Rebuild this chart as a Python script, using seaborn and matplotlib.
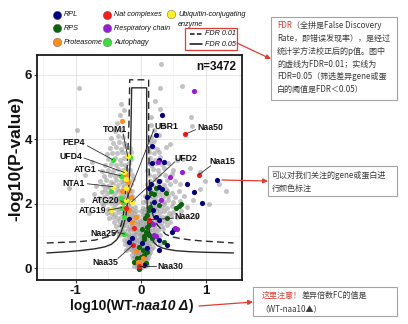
import matplotlib
matplotlib.use("Agg")
import matplotlib.pyplot as plt
from matplotlib.patches import Rectangle, FancyArrowPatch
from matplotlib.offsetbox import TextArea, HPacker, AnchoredOffsetbox
from matplotlib.ticker import MultipleLocator
import pandas as pd
import seaborn as sns

# ------------------------------------------------------------------ data
# all quantified proteins (log10 fold change, -log10 p)
gray_points = [
    (-0.10, 0.05), (-0.06, 0.02), (-0.02, 0.00), (0.02, 0.03), (0.06, 0.06), (0.09, 0.10),
    (-0.08, 0.12), (-0.04, 0.10), (0.00, 0.13), (0.04, 0.15), (0.08, 0.18), (-0.11, 0.20),
    (-0.07, 0.23), (-0.03, 0.21), (0.01, 0.24), (0.05, 0.26), (0.10, 0.27), (-0.12, 0.31),
    (-0.09, 0.33), (-0.05, 0.30), (-0.01, 0.34), (0.03, 0.32), (0.07, 0.36), (0.11, 0.35),
    (-0.13, 0.41), (-0.08, 0.43), (-0.04, 0.40), (0.00, 0.44), (0.04, 0.42), (0.08, 0.46),
    (0.12, 0.44), (-0.10, 0.49), (-0.06, 0.51), (-0.02, 0.48), (0.02, 0.51), (0.06, 0.53),
    (0.10, 0.50), (0.14, 0.49),
    (-0.22, 0.55), (-0.17, 0.58), (-0.13, 0.56), (-0.09, 0.60), (-0.05, 0.57), (-0.01, 0.60),
    (0.03, 0.58), (0.07, 0.62), (0.11, 0.60), (0.15, 0.58), (-0.20, 0.65), (-0.15, 0.68),
    (-0.11, 0.66), (-0.07, 0.70), (-0.03, 0.67), (0.01, 0.70), (0.05, 0.68), (0.09, 0.72),
    (0.13, 0.70), (0.18, 0.67), (-0.24, 0.75), (-0.19, 0.78), (-0.14, 0.76), (-0.10, 0.80),
    (-0.06, 0.77), (-0.02, 0.80), (0.02, 0.78), (0.06, 0.82), (0.10, 0.80), (0.14, 0.78),
    (0.20, 0.80), (-0.26, 0.86), (-0.21, 0.88), (-0.16, 0.90), (-0.12, 0.86), (-0.08, 0.90),
    (-0.04, 0.88), (0.00, 0.92), (0.04, 0.90), (0.08, 0.94), (0.12, 0.90), (0.17, 0.88),
    (0.22, 0.92), (-0.18, 0.97), (-0.10, 0.98), (-0.02, 0.99), (0.06, 0.98), (0.15, 0.99),
    (0.26, 0.90), (0.30, 0.75),
    (-0.33, 1.02), (-0.28, 1.05), (-0.23, 1.03), (-0.19, 1.07), (-0.15, 1.04), (-0.11, 1.08),
    (-0.07, 1.05), (-0.03, 1.09), (0.01, 1.06), (0.05, 1.10), (0.09, 1.07), (0.13, 1.05),
    (0.18, 1.09), (0.23, 1.06), (0.30, 1.04), (-0.36, 1.15), (-0.30, 1.18), (-0.25, 1.16),
    (-0.20, 1.20), (-0.16, 1.17), (-0.12, 1.21), (-0.08, 1.18), (-0.04, 1.22), (0.00, 1.19),
    (0.04, 1.23), (0.08, 1.20), (0.12, 1.18), (0.17, 1.22), (0.22, 1.20), (0.27, 1.17),
    (0.34, 1.20), (-0.38, 1.30), (-0.32, 1.33), (-0.27, 1.30), (-0.22, 1.34), (-0.17, 1.31),
    (-0.13, 1.35), (-0.09, 1.32), (-0.05, 1.36), (-0.01, 1.33), (0.03, 1.37), (0.07, 1.34),
    (0.11, 1.32), (0.16, 1.36), (0.21, 1.33), (0.26, 1.37), (0.32, 1.30), (0.40, 1.35),
    (-0.41, 1.44), (-0.34, 1.46), (-0.28, 1.43), (-0.23, 1.47), (-0.18, 1.45), (-0.14, 1.48),
    (-0.10, 1.44), (-0.06, 1.47), (-0.02, 1.45), (0.02, 1.48), (0.06, 1.46), (0.10, 1.44),
    (0.15, 1.47), (0.20, 1.45), (0.25, 1.48), (0.31, 1.44), (0.37, 1.47), (0.45, 1.42),
    (-0.48, 1.55), (-0.42, 1.58), (-0.36, 1.56), (-0.31, 1.60), (-0.26, 1.57), (-0.21, 1.61),
    (-0.17, 1.58), (-0.13, 1.62), (-0.09, 1.59), (-0.05, 1.63), (0.03, 1.64), (0.07, 1.61),
    (0.11, 1.58), (0.16, 1.62), (0.21, 1.59), (0.26, 1.63), (0.32, 1.60), (0.38, 1.58),
    (0.46, 1.62), (0.55, 1.60), (-0.52, 1.70), (-0.45, 1.72), (-0.39, 1.69), (-0.33, 1.73),
    (-0.28, 1.70), (-0.23, 1.74), (-0.19, 1.71), (-0.15, 1.75), (-0.11, 1.72), (-0.07, 1.76),
    (0.01, 1.77), (0.05, 1.74), (0.09, 1.71), (0.14, 1.75), (0.19, 1.72), (0.24, 1.76),
    (0.30, 1.73), (0.36, 1.77), (0.43, 1.72), (0.50, 1.75), (0.62, 1.78), (-0.50, 1.85),
    (-0.43, 1.88), (-0.37, 1.84), (-0.32, 1.87), (-0.27, 1.90), (-0.22, 1.86), (-0.17, 1.89),
    (-0.13, 1.85), (-0.09, 1.90), (0.03, 1.88), (0.07, 1.85), (0.11, 1.89), (0.16, 1.86),
    (0.21, 1.90), (0.27, 1.87), (0.33, 1.91), (0.40, 1.88), (0.48, 1.92), (0.70, 1.90),
    (-0.58, 1.95), (-0.40, 1.98), (-0.20, 1.97), (0.18, 1.97), (0.35, 1.99),
    (-0.60, 2.03), (-0.53, 2.06), (-0.46, 2.02), (-0.40, 2.07), (-0.35, 2.04), (-0.30, 2.08),
    (-0.25, 2.05), (-0.20, 2.09), (-0.16, 2.06), (-0.12, 2.10), (0.04, 2.05), (0.08, 2.09),
    (0.13, 2.06), (0.18, 2.10), (0.23, 2.07), (0.29, 2.11), (0.35, 2.06), (0.42, 2.10),
    (0.50, 2.05), (0.60, 2.08), (0.80, 2.12), (-0.64, 2.18), (-0.56, 2.21), (-0.49, 2.17),
    (-0.43, 2.22), (-0.37, 2.19), (-0.32, 2.23), (-0.27, 2.20), (-0.22, 2.24), (-0.17, 2.21),
    (-0.13, 2.25), (0.07, 2.24), (0.12, 2.21), (0.17, 2.25), (0.22, 2.22), (0.28, 2.26),
    (0.34, 2.21), (0.41, 2.25), (0.52, 2.20), (0.66, 2.24), (-0.72, 2.30), (-0.60, 2.35),
    (-0.52, 2.32), (-0.45, 2.37), (-0.39, 2.33), (-0.33, 2.38), (-0.28, 2.34), (-0.23, 2.39),
    (-0.18, 2.35), (-0.14, 2.40), (0.11, 2.35), (0.16, 2.39), (0.21, 2.36), (0.27, 2.40),
    (0.33, 2.35), (0.40, 2.39), (0.48, 2.34), (0.58, 2.38), (-0.55, 2.46), (-0.47, 2.48),
    (-0.36, 2.47), (-0.27, 2.49), (-0.19, 2.46), (0.14, 2.46), (0.24, 2.48), (0.38, 2.47),
    (0.90, 2.45),
    (-0.68, 2.55), (-0.58, 2.58), (-0.50, 2.56), (-0.42, 2.60), (-0.35, 2.57), (-0.28, 2.62),
    (-0.21, 2.58), (-0.15, 2.61), (0.10, 2.62), (0.18, 2.59), (0.26, 2.63), (0.35, 2.58),
    (0.45, 2.62), (0.60, 2.60), (-0.62, 2.70), (-0.53, 2.73), (-0.45, 2.69), (-0.38, 2.74),
    (-0.31, 2.71), (-0.25, 2.75), (-0.18, 2.72), (-0.12, 2.76), (0.14, 2.71), (0.21, 2.76),
    (0.30, 2.72), (0.40, 2.75), (0.52, 2.70), (-0.56, 2.86), (-0.47, 2.88), (-0.40, 2.85),
    (-0.33, 2.90), (-0.27, 2.87), (-0.20, 2.91), (-0.14, 2.88), (0.12, 2.90), (0.20, 2.87),
    (0.28, 2.91), (0.37, 2.88), (0.48, 2.92), (1.20, 2.60), (0.98, 2.70),
    (-0.60, 3.02), (-0.50, 3.05), (-0.42, 3.03), (-0.35, 3.08), (-0.28, 3.04), (-0.22, 3.09),
    (-0.16, 3.06), (0.10, 3.05), (0.18, 3.09), (0.27, 3.06), (0.36, 3.10), (0.50, 3.05),
    (-0.55, 3.20), (-0.46, 3.23), (-0.38, 3.19), (-0.31, 3.24), (-0.24, 3.21), (-0.18, 3.25),
    (0.13, 3.25), (0.16, 3.21), (0.24, 3.26), (0.33, 3.22), (0.42, 3.28), (-0.50, 3.38),
    (-0.40, 3.42), (-0.32, 3.37), (-0.25, 3.41), (-0.15, 3.38), (0.14, 3.42), (0.22, 3.37),
    (0.30, 3.44), (0.56, 3.35), (0.75, 3.10),
    (-0.52, 3.55), (-0.44, 3.58), (-0.36, 3.56), (-0.29, 3.60), (-0.23, 3.57), (-0.15, 3.62),
    (0.12, 3.61), (0.20, 3.56), (0.28, 3.60), (-0.47, 3.72), (-0.38, 3.75), (-0.30, 3.70),
    (-0.24, 3.78), (-0.16, 3.74), (0.13, 3.73), (0.18, 3.77), (0.25, 3.71), (0.38, 3.75),
    (-0.42, 3.90), (-0.33, 3.93), (-0.26, 3.88), (0.14, 3.92), (0.20, 3.95), (0.45, 3.85),
    (-0.45, 4.05), (-0.35, 4.10), (-0.27, 4.08), (0.15, 4.06), (0.28, 4.12), (-0.40, 4.25),
    (-0.30, 4.30), (0.20, 4.28), (-0.36, 4.50), (0.15, 4.45), (0.35, 4.40), (-0.32, 4.75),
    (0.16, 4.70), (-0.26, 4.90), (0.30, 4.95), (0.78, 4.40), (0.77, 4.70),
    (-0.95, 5.60), (-0.97, 4.30), (0.31, 6.34), (0.63, 5.66), (0.29, 5.60), (-1.10, 2.50),
    (-0.85, 2.90), (-0.90, 2.10), (-0.80, 1.70), (-0.75, 3.30), (0.85, 1.60), (1.05, 2.00),
    (1.30, 2.40), (0.65, 3.40), (0.90, 3.00), (-0.30, 5.10), (0.22, 5.20),
]

rpl_points = [
    (0.32, 4.75), (0.23, 4.14), (0.17, 3.80), (0.17, 3.28), (0.35, 3.30), (0.28, 3.37),
    (0.28, 2.70), (0.15, 2.60), (0.71, 2.60), (0.82, 2.36), (1.17, 2.75), (0.12, 2.50),
    (0.32, 2.47), (0.28, 2.53), (0.94, 2.03), (0.18, 1.81), (0.23, 1.59), (0.28, 1.50),
    (0.51, 1.22), (0.48, 1.12), (0.28, 0.88), (0.40, 0.72), (0.28, 0.56), (0.02, 0.78),
    (0.09, 0.63), (0.05, 0.09), (-0.18, 1.53), (-0.18, 0.81), (0.10, 2.20), (0.20, 2.05),
    (-0.14, 0.95),
]
rps_points = [
    (0.23, 2.50), (0.15, 2.34), (0.20, 2.30), (0.38, 2.34), (0.28, 1.97), (0.54, 1.88),
    (0.58, 1.92), (0.61, 1.99), (0.40, 1.56), (0.14, 1.90), (0.10, 1.65), (0.06, 1.55),
    (0.15, 1.40), (0.12, 1.35), (0.09, 1.28), (0.08, 1.12), (0.12, 1.03), (0.17, 0.95),
    (0.05, 1.00), (0.05, 0.90), (0.35, 0.81), (-0.03, 0.66), (0.03, 0.55), (0.10, 0.50),
    (0.05, 0.41), (0.00, 0.34), (-0.06, 0.30), (-0.11, 0.19), (0.08, 0.15), (-0.03, -0.03),
    (0.13, 1.80), (0.02, 1.20),
]
proteasome_points = [
    (-0.29, 4.56), (-0.22, 2.90), (-0.20, 2.66), (-0.18, 2.44), (-0.29, 2.38), (-0.15, 2.22),
    (-0.29, 2.06), (-0.18, 1.81), (-0.08, 1.59), (-0.14, 1.44), (-0.08, 0.53), (-0.05, 0.19),
    (-0.01, 0.12), (0.03, 0.30),
]
nat_points = [
    (0.68, 4.16), (0.89, 2.90), (0.12, 1.50), (-0.22, 1.88), (-0.11, 1.25), (-0.12, 0.72),
    (-0.03, 0.06),
]
respiratory_points = [
    (0.82, 5.50), (0.63, 3.00), (0.45, 2.82), (0.26, 3.30), (0.31, 2.13), (0.18, 1.38),
    (0.52, 1.25), (0.55, 1.22), (0.20, 1.03), (0.24, 1.00),
]
autophagy_points = [
    (-0.17, 3.44), (-0.43, 3.37), (-0.31, 2.87), (-0.46, 2.38), (-0.31, 2.19), (-0.26, 2.04),
    (-0.29, 1.88), (-0.26, 1.59), (-0.25, 1.06),
]
ubiquitin_points = [
    (-0.20, 3.47), (-0.25, 2.97), (-0.22, 2.78), (-0.43, 2.53), (-0.23, 2.50), (-0.22, 2.13),
    (-0.14, 2.06), (-0.46, 1.81),
]

category_names = ["RPL", "RPS", "Proteasome", "Nat complexes", "Respiratory chain",
                  "Autophagy", "Ubiquitin-conjugating enzyme"]
category_colors = ["#000080", "#0A640A", "#FF8C1A", "#FF1A1A", "#9B19D9",
                   "#36E036", "#FFF21A"]
category_points = [rpl_points, rps_points, proteasome_points, nat_points,
                   respiratory_points, autophagy_points, ubiquitin_points]

# significance threshold curves
fdr05_x = [-1.44, -1.20, -0.95, -0.70, -0.55, -0.45, -0.37, -0.31, -0.27, -0.23, -0.20,
           -0.18, -0.16, -0.15, -0.14, 0.09, 0.09, 0.09, 0.10, 0.11, 0.13, 0.16, 0.20,
           0.25, 0.32, 0.40, 0.54, 0.75, 1.00, 1.25, 1.42]
fdr05_y = [0.47, 0.50, 0.54, 0.60, 0.66, 0.74, 0.88, 1.08, 1.30, 1.60, 2.10,
           2.70, 3.40, 4.40, 5.60, 5.60, 4.00, 2.50, 1.80, 1.40, 1.15, 0.95, 0.80,
           0.70, 0.63, 0.59, 0.54, 0.51, 0.49, 0.48, 0.47]
fdr01_x = [-1.44, -1.20, -0.95, -0.70, -0.50, -0.40, -0.34, -0.30, -0.27, -0.25, -0.22,
           -0.20, -0.18, -0.17, 0.12, 0.12, 0.13, 0.15, 0.18, 0.22, 0.27, 0.32, 0.38,
           0.48, 0.60, 0.74, 0.95, 1.20, 1.42]
fdr01_y = [0.78, 0.80, 0.82, 0.87, 0.98, 1.08, 1.19, 1.35, 1.60, 2.00, 2.70,
           3.50, 4.60, 5.85, 5.85, 4.00, 2.80, 2.10, 1.70, 1.45, 1.30, 1.19, 1.05,
           0.97, 0.92, 0.88, 0.84, 0.81, 0.78]

# labelled proteins and the points they refer to
gene_names = ["TOM1", "PEP4", "UFD4", "ATG1", "NTA1", "ATG20", "ATG19", "Naa25",
              "Naa35", "Naa30", "Naa20", "UBR1", "UFD2", "Naa50", "Naa15"]
gene_x = [-0.20, -0.43, -0.25, -0.31, -0.43, -0.26, -0.29, -0.25,
          -0.12, -0.03, 0.12, -0.22, -0.14, 0.68, 0.89]
gene_y = [3.47, 3.37, 2.97, 2.87, 2.53, 2.04, 1.88, 1.06,
          0.72, 0.06, 1.50, 2.13, 2.06, 4.16, 2.90]
n_proteins = 3472

xticks = [-1, 0, 1]
yticks = [0, 2, 4, 6]

# ------------------------------------------------------------------ layout
# text anchor (x, y, ha) and leader-line start for each gene label
label_layout = {
    "TOM1": ((-0.21, 4.32, "right"), (-0.27, 4.17)),
    "PEP4": ((-0.855, 3.89, "right"), (-0.82, 3.80)),
    "UFD4": ((-0.90, 3.48, "right"), (-0.87, 3.42)),
    "ATG1": ((-0.68, 3.07, "right"), (-0.65, 3.03)),
    "NTA1": ((-0.855, 2.64, "right"), (-0.82, 2.62)),
    "ATG20": ((-0.33, 2.11, "right"), (-0.31, 2.09)),
    "ATG19": ((-0.52, 1.78, "right"), (-0.50, 1.80)),
    "Naa25": ((-0.37, 1.08, "right"), (-0.35, 1.10)),
    "Naa35": ((-0.35, 0.18, "right"), (-0.35, 0.30)),
    "Naa30": ((0.26, 0.06, "left"), (0.23, 0.06)),
    "Naa20": ((0.52, 1.60, "left"), (0.50, 1.55)),
    "UBR1": ((0.21, 4.41, "left"), (0.20, 4.30)),
    "UFD2": ((0.52, 3.42, "left"), (0.52, 3.30)),
    "Naa50": ((0.86, 4.38, "left"), (0.84, 4.30)),
    "Naa15": ((1.05, 3.32, "left"), (1.07, 3.18)),
}

sns.set_theme(style="white")
plt.rcParams["font.family"] = ["Liberation Sans", "DejaVu Sans"]
plt.rcParams["axes.unicode_minus"] = False
CJK = ["Noto Sans CJK SC", "DejaVu Sans"]
NARROW = ["Liberation Sans Narrow", "Liberation Sans", "DejaVu Sans"]
RED = "#E23B32"
BOXTXT = "#3A3A3A"

W, H = 408, 324
fig = plt.figure(figsize=(W / 100, H / 100), dpi=100)
fig.patch.set_facecolor("white")
ax = fig.add_axes([37 / W, 1 - 280 / H, 205 / W, 225 / H])

# background cloud
bg = pd.DataFrame(gray_points, columns=["fc", "p"])
sns.scatterplot(data=bg, x="fc", y="p", color="#9C9C9C", s=13, alpha=0.6,
                linewidth=0, ax=ax, zorder=2)

# FDR curves
sns.lineplot(x=fdr01_x, y=fdr01_y, sort=False, estimator=None, color="#2B2B2B",
             linewidth=1.0, linestyle=(0, (5, 3)), ax=ax, zorder=3)
sns.lineplot(x=fdr05_x, y=fdr05_y, sort=False, estimator=None, color="#2B2B2B",
             linewidth=1.0, ax=ax, zorder=3)

# highlighted groups
rows = []
for name, pts in zip(category_names, category_points):
    for x, y in pts:
        rows.append((name, x, y))
hl = pd.DataFrame(rows, columns=["group", "fc", "p"])
draw_order = ["RPS", "RPL", "Respiratory chain", "Proteasome", "Autophagy",
              "Ubiquitin-conjugating enzyme", "Nat complexes"]
palette = dict(zip(category_names, category_colors))
for g in draw_order:
    sub = hl[hl["group"] == g]
    sns.scatterplot(data=sub, x="fc", y="p", color=palette[g], s=14, linewidth=0,
                    ax=ax, zorder=4, legend=False)

# gene labels with leader lines
for name, gx, gy in zip(gene_names, gene_x, gene_y):
    (tx, ty, ha), (lx, ly) = label_layout[name]
    ax.plot([lx, gx], [ly, gy], color="#2B2B2B", lw=0.6, zorder=5)
    ax.text(tx, ty, name, ha=ha, va="center", fontsize=6.3, fontweight="bold",
            color="#111111", zorder=6)

ax.text(0.97, 0.945, f"n={n_proteins}", transform=ax.transAxes, ha="right",
        va="center", fontsize=8.5, fontweight="bold", color="#111111")

ax.set_xlim(-1.59, 1.55)
ax.set_ylim(-0.37, 6.62)
ax.set_xticks(xticks)
ax.set_yticks(yticks)
ax.xaxis.set_minor_locator(MultipleLocator(0.5))
ax.yaxis.set_minor_locator(MultipleLocator(1))
ax.grid(True, which="major", color="#E2E2E2", lw=0.6)
ax.grid(True, which="minor", color="#F0F0F0", lw=0.4)
ax.set_axisbelow(True)
for sp in ax.spines.values():
    sp.set_color("#1A1A1A")
    sp.set_linewidth(1.3)
ax.tick_params(axis="both", which="major", direction="out", length=2.0, width=0.8,
               color="#333333", labelsize=9.5, pad=1.5, left=True, bottom=True)
ax.tick_params(axis="both", which="minor", length=0)
for lbl in ax.get_xticklabels() + ax.get_yticklabels():
    lbl.set_fontweight("bold")
    lbl.set_color("#111111")
ax.set_xlabel("")
ax.set_ylabel("-log10(P-value)", fontsize=12.5, fontweight="bold", color="#111111")
ax.yaxis.set_label_coords(-0.068, 0.54)

# x label with italic strain name
xl = HPacker(children=[
    TextArea("log10(WT-", textprops=dict(fontsize=10, fontweight="bold", color="#111111")),
    TextArea("naa10 Δ", textprops=dict(fontsize=10, fontweight="bold", style="italic",
                                        color="#111111")),
    TextArea(")", textprops=dict(fontsize=10, fontweight="bold", color="#111111")),
], align="baseline", pad=0, sep=0)
fig.add_artist(AnchoredOffsetbox(loc="center", child=xl, frameon=False, pad=0, borderpad=0,
                                 bbox_to_anchor=(131.5 / W, 1 - 306 / H),
                                 bbox_transform=fig.transFigure))

# ------------------------------------------------------------------ overlay (pixel space)
ov = fig.add_axes([0, 0, 1, 1], zorder=10)
ov.set_xlim(0, W)
ov.set_ylim(H, 0)
ov.axis("off")

# group legend
legend_slots = [(57, 15), (57, 28), (57, 42), (107, 15), (107, 28), (107, 42), (171, 14)]
for (lx, ly), name, col in zip(legend_slots, category_names, category_colors):
    ov.plot([lx], [ly], marker="o", ms=6, color=col, mec="#555555", mew=0.3)
    first = name.replace(" enzyme", "")
    ov.text(lx + 7, ly, first, fontsize=5.2, style="italic", family=NARROW,
            va="center", ha="left", color="#111111")
ov.text(178, 24.5, "enzyme", fontsize=5.2, style="italic", family=NARROW,
        va="center", ha="left", color="#111111")

# FDR line legend
ov.add_patch(Rectangle((185, 28), 52, 22, fill=False, ec=RED, lw=0.9))
ov.plot([190, 202], [33.5, 33.5], color="#111111", lw=1.1, ls=(0, (3, 1.5)))
ov.plot([190, 202], [44, 44], color="#111111", lw=1.1)
ov.text(205, 33.5, "FDR 0.01", fontsize=5.2, style="italic", family=NARROW,
        va="center", ha="left", color="#111111")
ov.text(205, 44, "FDR 0.05", fontsize=5.2, style="italic", family=NARROW,
        va="center", ha="left", color="#111111")


def arrow(p0, p1):
    ov.add_patch(FancyArrowPatch(p0, p1, arrowstyle="-|>", mutation_scale=7,
                                 color=RED, lw=0.9, shrinkA=0, shrinkB=0))


def mixed_line(x, y, parts, size=5.8):
    txt, col = parts[0]
    prev = ov.text(x, y, txt, color=col, fontsize=size, family=CJK, va="center", ha="left")
    for txt, col in parts[1:]:
        prev = ov.annotate(txt, xy=(1, 0), xycoords=prev, xytext=(0, 0),
                           textcoords="offset points", va="bottom", ha="left",
                           color=col, fontsize=size, family=CJK)


def note_box(x0, y0, x1, y1):
    ov.add_patch(Rectangle((x0, y0), x1 - x0, y1 - y0, fc="white", ec="#A3A3A3", lw=0.8))


# FDR explanation
note_box(271, 17, 397, 100)
mixed_line(277, 25.7, [("FDR", RED), ("（全拼是False Discovery", BOXTXT)])
mixed_line(277, 38.3, [("Rate，即错误发现率），是经过", BOXTXT)])
mixed_line(277, 51.7, [("统计学方法校正后的p值。图中", BOXTXT)])
mixed_line(277, 64.0, [("的虚线为FDR=0.01；实线为", BOXTXT)])
mixed_line(277, 76.7, [("FDR=0.05（筛选差异gene或蛋", BOXTXT)])
mixed_line(277, 89.3, [("白的阈值是FDR＜0.05）", BOXTXT)])
arrow((237, 43), (271, 59))

# coloured groups note
note_box(268, 166, 397, 196)
mixed_line(272, 175, [("可以对我们关注的gene或蛋白进", BOXTXT)])
mixed_line(272, 188.3, [("行颜色标注", BOXTXT)])
arrow((222, 180), (268, 181))

# fold-change note
note_box(253, 287, 397, 316)
mixed_line(262, 295, [("这里注意！", RED), ("差异倍数FC的值是", BOXTXT)])
mixed_line(260, 308.3, [("（WT-naa10▲）", BOXTXT)])
arrow((199, 306), (253, 302))

fig.savefig("out.png", dpi=100, facecolor="white")
